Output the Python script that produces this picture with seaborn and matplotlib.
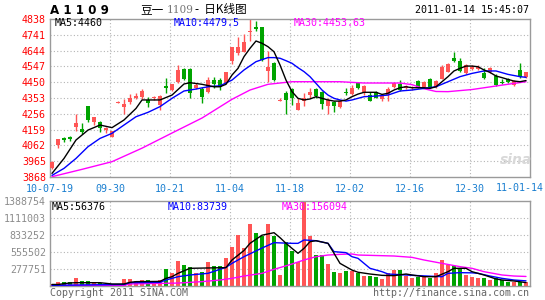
import numpy as np
import pandas as pd
import matplotlib
matplotlib.use("Agg")
import matplotlib.pyplot as plt
import seaborn as sns

# ---------------- data ----------------
date_labels = ["10-07-19", "09-30", "10-21", "11-04", "11-18", "12-02", "12-16", "12-30", "11-01-14"]
price_ticks = [4838, 4741, 4644, 4547, 4450, 4353, 4256, 4159, 4062, 3965, 3868]
vol_ticks = [1388754, 1111003, 833252, 555502, 277751]

opens = [3925, 4064, 4106, 4113, 4177, 4165, 4304, 4203, 4203, 4154,
         4115, 4324, 4300, 4330, 4355, 4361, 4341, 4353, 4310, 4427,
         4402, 4453, 4531, 4529, 4416, 4408, 4388, 4463, 4463, 4447,
         4580, 4627, 4637, 4758, 4791, 4791, 4519, 4566, 4334, 4382,
         4408, 4279, 4334, 4371, 4408, 4388, 4306, 4326, 4300, 4390,
         4375, 4443, 4388, 4371, 4388, 4347, 4371, 4422, 4437, 4412,
         4412, 4457, 4422, 4470, 4422, 4470, 4515, 4601, 4580, 4504,
         4531, 4531, 4508, 4510, 4488, 4451, 4470, 4433, 4525, 4480]
closes = [3962, 4099, 4097, 4103, 4201, 4142, 4218, 4234, 4167, 4171,
          4148, 4328, 4316, 4353, 4365, 4396, 4320, 4357, 4365, 4412,
          4439, 4525, 4470, 4386, 4433, 4361, 4463, 4437, 4422, 4510,
          4664, 4668, 4699, 4762, 4775, 4586, 4545, 4463, 4338, 4341,
          4355, 4320, 4351, 4388, 4367, 4314, 4341, 4306, 4334, 4386,
          4416, 4416, 4429, 4336, 4355, 4371, 4408, 4443, 4402, 4427,
          4422, 4416, 4453, 4422, 4457, 4545, 4560, 4582, 4519, 4556,
          4545, 4545, 4474, 4539, 4433, 4443, 4453, 4457, 4484, 4510]
highs = [3968, 4104, 4116, 4121, 4253, 4197, 4304, 4238, 4211, 4175,
         4150, 4332, 4347, 4377, 4386, 4408, 4361, 4367, 4371, 4474,
         4439, 4556, 4535, 4535, 4443, 4420, 4479, 4479, 4474, 4514,
         4664, 4725, 4746, 4838, 4826, 4791, 4641, 4576, 4351, 4396,
         4416, 4351, 4382, 4416, 4416, 4396, 4351, 4334, 4341, 4416,
         4432, 4449, 4433, 4392, 4396, 4375, 4420, 4453, 4461, 4433,
         4428, 4461, 4457, 4474, 4463, 4555, 4566, 4637, 4597, 4560,
         4555, 4555, 4535, 4545, 4498, 4470, 4478, 4463, 4566, 4514]
lows = [3915, 4046, 4081, 4089, 4150, 4130, 4203, 4187, 4146, 4136,
        4112, 4322, 4253, 4314, 4345, 4347, 4300, 4343, 4279, 4386,
        4396, 4443, 4464, 4355, 4408, 4324, 4386, 4416, 4400, 4443,
        4562, 4617, 4633, 4703, 4766, 4582, 4453, 4459, 4334, 4255,
        4310, 4279, 4306, 4355, 4351, 4285, 4255, 4269, 4294, 4371,
        4371, 4408, 4371, 4334, 4351, 4334, 4334, 4416, 4396, 4408,
        4402, 4412, 4416, 4416, 4416, 4468, 4510, 4576, 4515, 4498,
        4525, 4525, 4470, 4504, 4427, 4437, 4443, 4429, 4478, 4474]
volumes = [33, 71, 65, 65, 125, 82, 82, 54, 44, 30,
           40, 22, 114, 114, 87, 98, 98, 87, 98, 278,
           218, 414, 343, 316, 207, 223, 398, 327, 327, 463,
           643, 833, 615, 1013, 871, 817, 1013, 817, 180, 724,
           572, 398, 1388, 817, 506, 506, 359, 234, 218, 245,
           245, 207, 169, 169, 152, 120, 218, 261, 261, 169,
           125, 152, 152, 125, 218, 425, 343, 327, 272, 180,
           142, 125, 136, 90, 130, 90, 62, 72, 62, 62]  # thousands

ma5_idx = [0, 2, 4, 6, 8, 10, 12, 14, 15, 16, 18, 20, 22, 23, 25, 27, 28, 29, 30, 31, 32, 33, 34, 35, 36, 37, 38, 39,
           40, 41, 42, 43, 44, 45, 46, 47, 48, 49, 50, 51, 52, 53, 54, 55, 56, 57, 58, 59, 60, 61, 62, 63, 64, 65,
           66, 67, 68, 69, 70, 71, 72, 73, 74, 75, 76, 77, 78, 79]
ma5_val = [3890, 3982, 4095, 4156, 4187, 4171, 4218, 4289, 4341, 4341, 4341, 4371, 4439, 4447, 4437, 4422, 4422,
           4437, 4494, 4535, 4607, 4658, 4703, 4689, 4668, 4637, 4556, 4463,
           4392, 4351, 4341, 4347, 4361, 4351, 4341, 4334, 4334, 4341, 4361, 4377, 4388, 4388, 4388, 4375, 4382,
           4402, 4416, 4422, 4416, 4416, 4416, 4412, 4422, 4453,
           4484, 4519, 4535, 4549, 4549, 4545, 4525, 4510, 4488, 4478, 4467, 4457, 4453, 4460]
ma10_idx = [0, 2, 4, 6, 8, 10, 12, 14, 16, 18, 20, 22, 24, 26, 28, 30, 32, 34, 36, 37, 38, 39, 40, 41, 42, 43, 44,
            45, 46, 47, 48, 49, 50, 52, 54, 56, 58, 60, 62, 64, 66, 68, 70, 72, 74, 76, 78, 79]
ma10_val = [3878, 3921, 3982, 4054, 4105, 4136, 4187, 4238, 4265, 4300, 4351, 4396, 4408, 4422, 4428, 4463, 4525,
            4576, 4601, 4601, 4597, 4582, 4566, 4539, 4515, 4484, 4443,
            4402, 4371, 4351, 4341, 4334, 4341, 4361, 4365, 4371, 4396, 4402, 4412, 4422, 4453, 4484, 4504, 4519,
            4519, 4498, 4484, 4480]
ma30_idx = [0, 5, 10, 15, 20, 25, 30, 33, 36, 40, 48, 52, 58, 60, 62, 64, 66, 70, 75, 79]
ma30_val = [3870, 3915, 3962, 4045, 4138, 4230, 4345, 4402, 4437, 4453, 4453, 4445, 4445, 4435, 4410, 4393, 4392,
            4405, 4432, 4453]

vma5_idx = [0, 1, 3, 4, 8, 10, 12, 13, 14, 18, 19, 20, 21, 23, 29, 30, 32, 33, 35, 37, 38, 39, 40, 41, 42, 43, 44,
            46, 47, 48, 50, 51, 53, 55, 57, 59, 60, 62, 64, 66, 67, 69, 70, 72, 74, 75, 77, 79]
vma5_val = [25, 25, 50, 54, 54, 33, 33, 60, 71, 75, 125, 152, 207, 289, 300, 425, 580, 697, 830, 871, 790, 697,
            615, 534, 615, 724, 740, 697, 534, 370, 260, 225, 196, 174, 169, 196, 180, 152, 152, 234, 289, 289,
            234, 180, 115, 98, 82, 56]
vma10_idx = [0, 12, 13, 18, 19, 21, 23, 26, 29, 30, 32, 35, 37, 40, 41, 42, 44, 46, 47, 49, 50, 51, 53, 55, 56,
             60, 65, 66, 68, 70, 71, 73, 75, 77, 79]
vma10_val = [11, 25, 54, 60, 98, 152, 180, 207, 305, 370, 479, 620, 708, 697, 697, 752, 740, 697, 561, 545, 479,
             452, 289, 234, 196, 174, 152, 207, 218, 215, 207, 163, 125, 98, 84]
vma30_idx = [0, 12, 13, 21, 25, 28, 30, 32, 35, 37, 40, 42, 44, 46, 48, 50, 51, 57, 60, 62, 65, 68, 70, 72, 75,
             77, 79]
vma30_val = [11, 11, 33, 48, 71, 98, 125, 163, 207, 272, 359, 425, 479, 506, 517, 523, 506, 490, 468, 425, 370,
             316, 289, 234, 180, 163, 156]

# ---------------- style ----------------
sns.set_style("white")
plt.rcParams['font.family'] = ['DejaVu Sans Mono', 'Noto Sans CJK SC']

RED = '#ff5555'
GREEN = '#00a400'
GRID = '#b4b4b4'
FRAME = '#9a9a9a'
W, H = 545, 300

fig = plt.figure(figsize=(5.45, 3.0), dpi=100)
fig.patch.set_facecolor('white')


def fx(px):
    return px / W


def fy(py):
    return 1 - py / H


ax = fig.add_axes([fx(50), fy(177), fx(480), (177 - 19) / H])
axv = fig.add_axes([fx(50), fy(286), fx(480), (286 - 201) / H])

n = len(opens)
xs = np.arange(n)
df = pd.DataFrame({'x': xs, 'open': opens, 'close': closes, 'high': highs, 'low': lows,
                   'vol': np.array(volumes) * 1000})
df['up'] = df['close'] >= df['open']
df['color'] = np.where(df['up'], RED, GREEN)

xmin, xmax = -1 / 3, n - 1 / 3
grid_x = [xmin + 10 * k for k in range(1, 8)]

for a in (ax, axv):
    a.set_xlim(xmin, xmax)
    for s in a.spines.values():
        s.set_color(FRAME)
        s.set_linewidth(1.0)
    for gx in grid_x:
        a.axvline(gx, color=GRID, lw=0.8, ls=(0, (1, 2)), zorder=0)

# main panel
ax.set_ylim(3868, 4838)
for p in price_ticks[1:-1]:
    ax.axhline(p, color=GRID, lw=0.8, ls=(0, (1, 2)), zorder=0)

ax.vlines(df['x'], df['low'], df['high'], colors=df['color'], lw=1.0, zorder=2)
body_bottom = np.minimum(df['open'], df['close'])
body_h = np.maximum(np.abs(df['close'] - df['open']), 5)
ax.bar(df['x'], body_h, bottom=body_bottom, width=0.72, color=df['color'], linewidth=0, zorder=3)

sns.lineplot(x=ma30_idx, y=ma30_val, ax=ax, color='#ff00ff', lw=1.0, estimator=None, sort=False, zorder=4)
sns.lineplot(x=ma10_idx, y=ma10_val, ax=ax, color='#0000ff', lw=1.0, estimator=None, sort=False, zorder=5)
sns.lineplot(x=ma5_idx, y=ma5_val, ax=ax, color='#000000', lw=1.0, estimator=None, sort=False, zorder=6)

ax.set_yticks(price_ticks)
ax.set_yticklabels([str(p) for p in price_ticks], color='#ff0000', fontsize=7.2)
ax.set_xticks([xmin] + grid_x)
ax.set_xticklabels(date_labels[:8], color='#1a7fd0', fontsize=7.2)
ax.tick_params(axis='y', length=0, pad=3)
ax.tick_params(axis='x', length=0, pad=5)
ax.set_xlabel('')
ax.set_ylabel('')

# volume panel
axv.set_ylim(0, 1388754)
for v in vol_ticks[1:]:
    axv.axhline(v, color=GRID, lw=0.8, ls=(0, (1, 2)), zorder=0)
axv.bar(df['x'], df['vol'], width=0.8, color=df['color'], linewidth=0, zorder=2)
sns.lineplot(x=vma30_idx, y=np.array(vma30_val) * 1000, ax=axv, color='#ff00ff', lw=1.0,
             estimator=None, sort=False, zorder=4)
sns.lineplot(x=vma10_idx, y=np.array(vma10_val) * 1000, ax=axv, color='#0000ff', lw=1.0,
             estimator=None, sort=False, zorder=5)
sns.lineplot(x=vma5_idx, y=np.array(vma5_val) * 1000, ax=axv, color='#000000', lw=1.0,
             estimator=None, sort=False, zorder=6)
axv.set_yticks(vol_ticks)
axv.set_yticklabels([str(v) for v in vol_ticks], color='#8c8c8c', fontsize=7.2)
axv.set_xticks([])
axv.tick_params(axis='both', length=0, pad=3)
axv.set_xlabel('')
axv.set_ylabel('')

# last date label at right edge
fig.text(fx(544), fy(188), date_labels[8], ha='right', va='center', color='#1a7fd0', fontsize=7.2)

# header texts
fig.text(fx(50), fy(10), 'A 1 1 0 9', ha='left', va='center', fontsize=8.6, fontweight='bold',
         family=['DejaVu Sans'], color='black')
fig.text(fx(140), fy(10), '豆一', ha='left', va='center', fontsize=8.4,
         family=['Noto Sans CJK SC'], color='black')
fig.text(fx(167), fy(10), '1109', ha='left', va='center', fontsize=7.6,
         family=['DejaVu Serif'], color='#777777')
fig.text(fx(195), fy(10), '-  日K线图', ha='left', va='center', fontsize=8.4,
         family=['Noto Sans CJK SC', 'DejaVu Sans'], color='black')
fig.text(fx(529), fy(10), '2011-01-14 15:45:07', ha='right', va='center', fontsize=7.2, color='black')

# MA legends
fig.text(fx(55), fy(23.5), 'MA5:4460', ha='left', va='center', fontsize=7.2, color='black')
fig.text(fx(174), fy(23.5), 'MA10:4479.5', ha='left', va='center', fontsize=7.2, color='#0000ff')
fig.text(fx(294), fy(23.5), 'MA30:4453.63', ha='left', va='center', fontsize=7.2, color='#ff00ff')
fig.text(fx(52), fy(207), 'MA5:56376', ha='left', va='center', fontsize=7.2, color='black')
fig.text(fx(168), fy(207), 'MA10:83739', ha='left', va='center', fontsize=7.2, color='#0000ff')
fig.text(fx(282), fy(207), 'MA30:156094', ha='left', va='center', fontsize=7.2, color='#ff00ff')

# footer
fig.text(fx(50), fy(293), 'Copyright 2011 SINA.COM', ha='left', va='center', fontsize=7.2, color='#666666')
fig.text(fx(529), fy(293), 'http://finance.sina.com.cn', ha='right', va='center', fontsize=7.2,
         color='#666666')

# watermark
fig.text(fx(516), fy(160), 'sina', ha='center', va='center', fontsize=10, fontweight='bold',
         style='italic', family=['DejaVu Sans'], color='#d8d8d8', zorder=0)

fig.savefig('out.png', dpi=100, facecolor='white')
